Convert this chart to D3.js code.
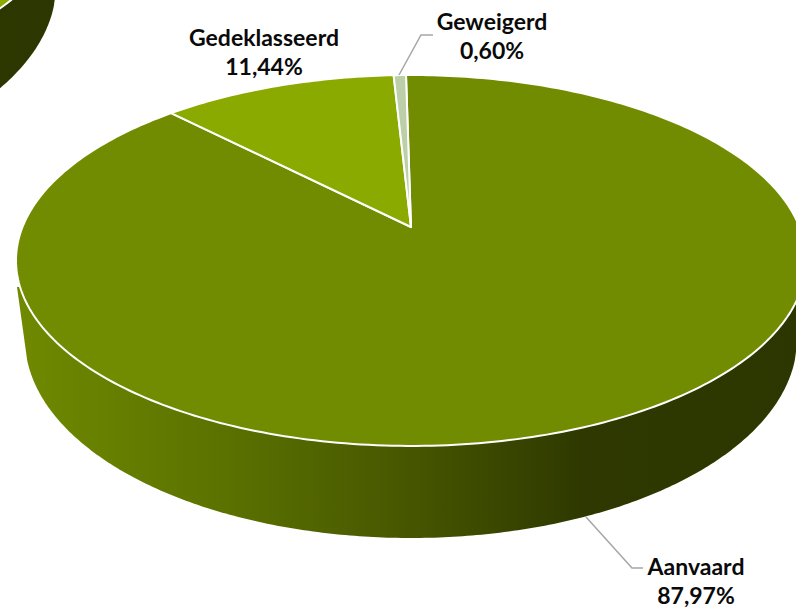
<!DOCTYPE html>
<html><head><meta charset="utf-8">
<script src="https://cdn.jsdelivr.net/npm/d3@7/dist/d3.min.js"></script>
<style>html,body{margin:0;padding:0;background:#fff;overflow:hidden}svg{display:block}</style>
</head><body><svg id="c" width="796" height="608"></svg>
<script>
const categories = ["Aanvaard", "Gedeklasseerd", "Geweigerd"];
const values = [87.97, 11.44, 0.60];
const valueLabels = ["87,97%", "11,44%", "0,60%"];
const sliceColors = ["#718c00", "#8aaa00", "#bccfa8"];
const labelCenters = [[696, 575], [264, 46], [492, 30]];
const labelLeaders = [[[586, 517], [632, 568], [643, 568]], null, [[399, 75], [421, 35], [433, 35]]];
const wallStops = [[0, "#6f8a00"], [0.25, "#5c7300"], [0.5, "#465600"], [0.72, "#2e3800"], [1, "#2c3600"]];

const svg = d3.select("#c");
const grad = svg.append("defs").append("linearGradient").attr("id", "wall")
  .attr("gradientUnits", "userSpaceOnUse").attr("x1", 16).attr("x2", 806).attr("y1", 0).attr("y2", 0);
wallStops.forEach(s => grad.append("stop").attr("offset", s[0]).attr("stop-color", s[1]));

// Perspective projection of the tilted disc
const cx = 411, apexY = 227, k = -0.1806, a = 138.4, b = 388.5;
const px = (u, v) => cx + b * u / (1 + k * v);
const py = (u, v) => (apexY + a * v) / (1 + k * v);
const rim = t => [px(Math.sin(t), -Math.cos(t)), py(Math.sin(t), -Math.cos(t))];
const line = d3.line();

function ellipsePts(x0, y0, rx, ry, t0, t1) {
  return d3.range(0, 241).map(i => {
    const t = t0 + (t1 - t0) * i / 240;
    return [x0 + rx * Math.cos(t), y0 + ry * Math.sin(t)];
  });
}
function wall(g) {
  const tangent = Math.asin(21 / 199);
  g.append("path").attr("fill", "url(#wall)")
    .attr("d", line([[17, 287]].concat(ellipsePts(411, 339, 386, 199, Math.PI - tangent, tangent), [[805, 287]])) + "Z");
}

// neighbouring pie, clipped by the page corner
const other = svg.append("g").attr("transform", "translate(-741,-354)");
wall(other);
other.append("path").attr("fill", sliceColors[1]).attr("stroke", "#fff").attr("stroke-width", 2)
  .attr("d", line(d3.range(0, 361).map(d => rim(d * Math.PI / 180))) + "Z");

// main pie
const main = svg.append("g");
wall(main);
const start = -0.87 * Math.PI / 180;
const pie = d3.pie().sort(null).startAngle(start).endAngle(start + 2 * Math.PI);
const arcs = pie(values);
main.selectAll("path.slice").data(arcs).join("path").attr("class", "slice")
  .attr("fill", (d, i) => sliceColors[i])
  .attr("stroke", "#fff").attr("stroke-width", 2).attr("stroke-linejoin", "round")
  .attr("d", d => {
    const n = Math.max(4, Math.ceil((d.endAngle - d.startAngle) * 60));
    const pts = d3.range(n + 1).map(i => rim(d.startAngle + (d.endAngle - d.startAngle) * i / n));
    return line([[cx, apexY]].concat(pts)) + "Z";
  });

svg.selectAll("path.leader").data(labelLeaders.filter(Boolean)).join("path").attr("class", "leader")
  .attr("fill", "none").attr("stroke", "#a6a6a6").attr("stroke-width", 1.5).attr("d", d => line(d));

const labels = svg.selectAll("text").data(categories).join("text")
  .attr("text-anchor", "middle").attr("fill", "#0a0a0a")
  .style("font-family", "Lato, sans-serif").style("font-weight", 700).style("font-size", "23px");
labels.append("tspan").attr("x", (d, i) => labelCenters[i][0]).attr("y", (d, i) => labelCenters[i][1]).text(d => d);
labels.append("tspan").attr("x", (d, i) => labelCenters[i][0]).attr("y", (d, i) => labelCenters[i][1] + 29).text((d, i) => valueLabels[i]);
</script></body></html>
